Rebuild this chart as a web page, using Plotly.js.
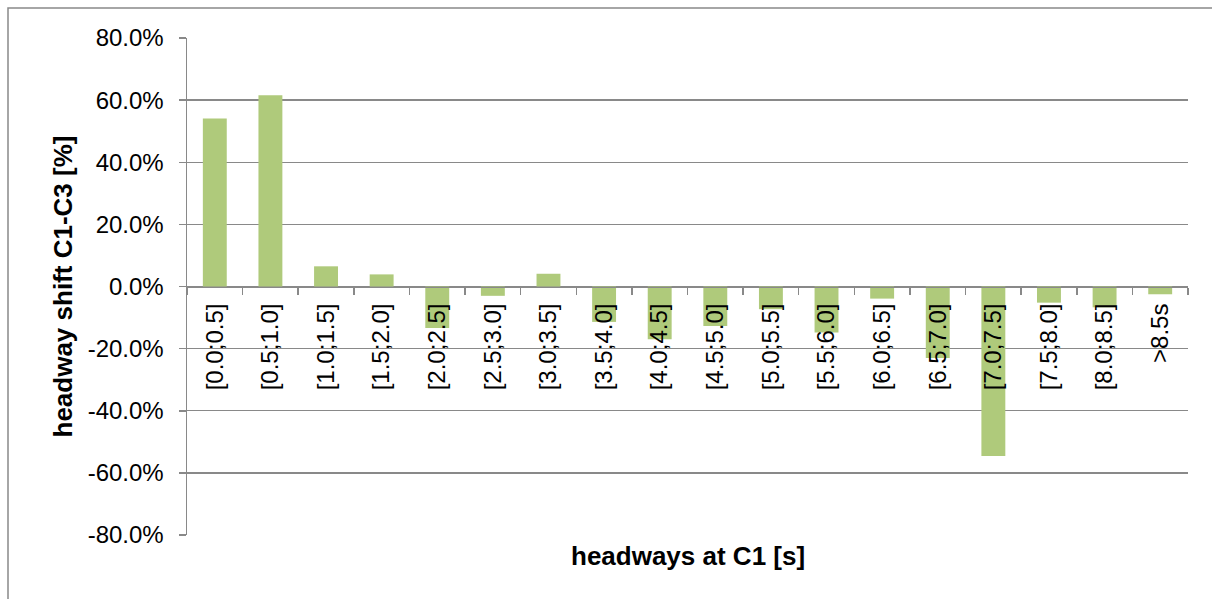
<!DOCTYPE html>
<html>
<head>
<meta charset="utf-8">
<script src="https://cdn.plot.ly/plotly-3.0.1.min.js"></script>
<style>html,body{margin:0;padding:0;background:#fff;}#chart{width:1212px;height:599px;}</style>
</head>
<body>
<div id="chart"></div>
<script>
var categories = ["[0.0;0.5]","[0.5;1.0]","[1.0;1.5]","[1.5;2.0]","[2.0;2.5]","[2.5;3.0]","[3.0;3.5]","[3.5;4.0]","[4.0;4.5]","[4.5;5.0]","[5.0;5.5]","[5.5;6.0]","[6.0;6.5]","[6.5;7.0]","[7.0;7.5]","[7.5;8.0]","[8.0;8.5]",">8.5s"];
var shiftValues = [54.1, 61.6, 6.5, 3.9, -13.4, -3.0, 4.1, -11.4, -17.0, -12.7, -7.3, -14.8, -3.9, -23.0, -54.6, -5.2, -6.7, -2.5];
var yTickVals = [80, 60, 40, 20, 0, -20, -40, -60, -80];
var yTickText = ["80.0%","60.0%","40.0%","20.0%","0.0%","-20.0%","-40.0%","-60.0%","-80.0%"];
var xTitle = "headways at C1 [s]";
var yTitle = "headway shift C1-C3 [%]";

var font = "Liberation Sans, Arial, sans-serif";
var gray = "#898989";

var trace = {
  type: "bar",
  x: categories,
  y: shiftValues,
  marker: {color: "#afca7b", line: {width: 0}},
  hoverinfo: "x+y"
};

var layout = {
  width: 1212, height: 599,
  margin: {l: 187, r: 24, t: 38, b: 64, pad: 0},
  paper_bgcolor: "#ffffff",
  plot_bgcolor: "#ffffff",
  showlegend: false,
  bargap: 0.57,
  font: {family: font, size: 24, color: "#000"},
  xaxis: {
    type: "category",
    anchor: "free",
    position: 0.5,
    showline: true, linecolor: gray, linewidth: 1.5,
    showgrid: false, zeroline: false,
    ticks: "outside", tickson: "boundaries", ticklen: 7, tickcolor: gray, tickwidth: 1.5,
    tickangle: -90,
    tickfont: {family: font, size: 24, color: "#000"},
    ticklabelstandoff: 6,
    fixedrange: true
  },
  yaxis: {
    range: [-80, 80],
    tickvals: yTickVals,
    ticktext: yTickText,
    showline: true, linecolor: gray, linewidth: 1.5,
    showgrid: true, gridcolor: gray, gridwidth: 1.3,
    zeroline: false,
    ticks: "outside", ticklen: 7, tickcolor: gray, tickwidth: 1.5,
    tickfont: {family: font, size: 24, color: "#000"},
    ticklabelstandoff: 10,
    fixedrange: true
  },
  annotations: [
    {text: "<b>" + xTitle + "</b>", xref: "paper", yref: "paper", x: 0.5, y: 0,
     xanchor: "center", yanchor: "middle", yshift: -21, showarrow: false,
     font: {family: font, size: 26, color: "#000"}},
    {text: "<b>" + yTitle + "</b>", xref: "paper", yref: "paper", x: (62 - 187) / 1001, y: 0.5,
     xanchor: "center", yanchor: "middle", textangle: -90, showarrow: false,
     font: {family: font, size: 26, color: "#000"}}
  ],
  shapes: [
    {type: "rect", xref: "paper", yref: "paper",
     x0: (8 - 187) / 1001, x1: 1.2, y0: -0.3, y1: 1 + (38 - 8) / 497,
     line: {color: gray, width: 1.5}, fillcolor: "rgba(0,0,0,0)", layer: "below"}
  ]
};

Plotly.newPlot("chart", [trace], layout, {displayModeBar: false, staticPlot: true});
</script>
</body>
</html>
